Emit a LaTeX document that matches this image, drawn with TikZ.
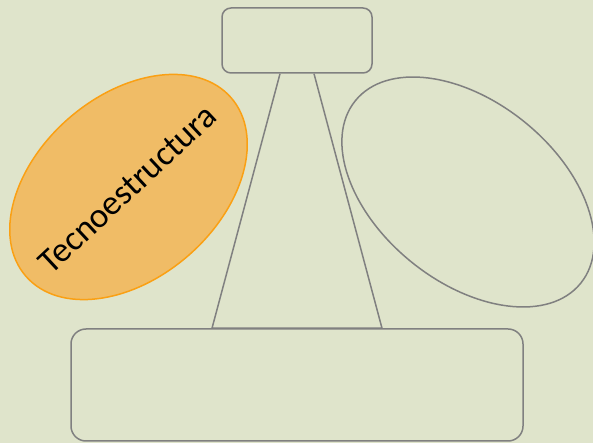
\documentclass[tikz,border=0pt]{standalone}
\usepackage{fontspec}
\setmainfont{Carlito}
\usetikzlibrary{shapes.geometric}
\definecolor{bg}{RGB}{223,228,203}
\definecolor{lgray}{RGB}{128,128,128}
\definecolor{ofill}{RGB}{240,188,102}
\definecolor{oline}{RGB}{250,160,20}
\tikzset{
  box/.style={draw=lgray, line width=1.5pt, rectangle, inner sep=0pt},
  oval/.style={draw=lgray, line width=1.5pt, ellipse, inner sep=0pt},
  link/.style={draw=lgray, line width=1.5pt},
}
\begin{document}
\begin{tikzpicture}[x=1pt,y=1pt]
\fill[bg] (0,0) rectangle (593,443);
\useasboundingbox (0,0) rectangle (593,443);
\node[box, rounded corners=9pt, minimum width=150pt, minimum height=65pt] (top) at (297,402.5) {};
\node[box, rounded corners=15pt, minimum width=452pt, minimum height=112pt] (bot) at (297,58) {};
\draw[link] ([xshift=-17pt]top.south) -- ([xshift=-85pt]bot.north) -- ([xshift=85pt]bot.north) -- ([xshift=17pt]top.south);
\node[oval, draw=oline, fill=ofill, minimum width=272pt, minimum height=182pt, rotate=41] (tecno) at (128.5,256) {};
\node[rotate=43, font=\fontsize{35}{38}\selectfont, inner sep=0pt] (tecnotext) at ([shift={(-1pt,-2pt)}]tecno.center) {Tecnoestructura};
\node[oval, minimum width=290pt, minimum height=180pt, rotate=-39] (apoyo) at (468,251) {};
\end{tikzpicture}
\end{document}
